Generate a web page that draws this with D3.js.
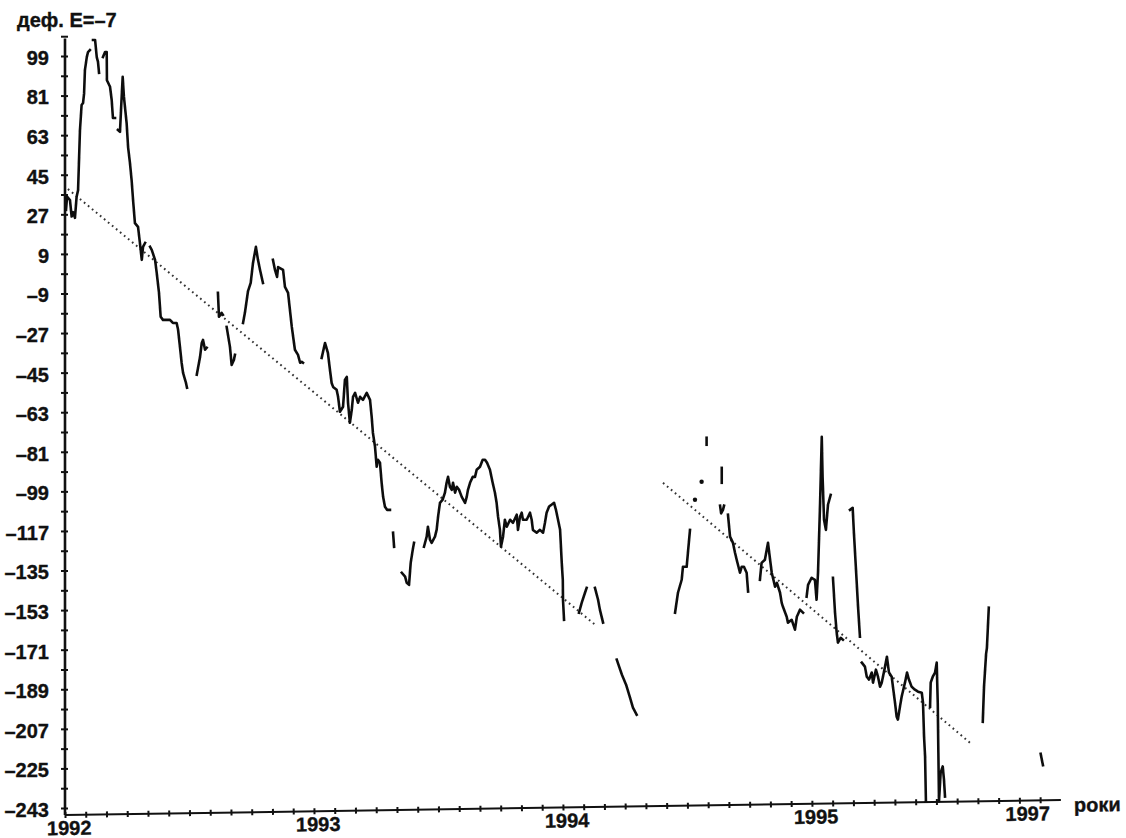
<!DOCTYPE html>
<html>
<head>
<meta charset="utf-8">
<script src="https://cdn.jsdelivr.net/npm/d3@7"></script>
<style>
  html, body { margin: 0; padding: 0; background: #fff; }
  svg { display: block; }
  text { font-family: "Liberation Sans", Arial, sans-serif; font-weight: bold; fill: #111; stroke: #111; stroke-width: 0.35px; }
</style>
</head>
<body>
<svg id="chart" width="1126" height="838"></svg>
<script>
// Deviation series, x in months since Jan 1992, y in deviation units.
// The record is broken into runs wherever the trace has a gap.
const run01 = [[0.05,29],[0.10,35],[0.24,33.5],[0.32,26],[0.39,28],[0.48,25.4],[0.56,35],[0.63,38],[0.72,65],[0.80,76.7],[0.87,77.6],[0.92,82],[0.96,92.6],[1.05,98.5],[1.11,100.8],[1.20,101.7]];
const run02 = [[1.35,106.3],[1.45,106.3],[1.53,98.5],[1.59,96.3],[1.64,91.3]];
const run03 = [[1.83,98.5],[1.93,100.8],[2.01,100.8],[2.02,88],[2.17,85],[2.25,79],[2.31,70.8],[2.41,70.8]];
const run04 = [[2.55,65.4],[2.65,64.5],[2.70,74.5],[2.78,89.5],[2.84,80.4],[2.97,68.5],[3.04,57.6],[3.13,50.4],[3.21,42.6],[3.28,33.5],[3.37,23],[3.52,21.3],[3.61,14],[3.70,6.3],[3.76,12.2],[3.86,14]];
const run05 = [[4.10,12.2],[4.18,10.8],[4.34,6.3],[4.42,0.4],[4.53,-8.7],[4.61,-19.6],[4.72,-21],[5.06,-21],[5.20,-22.4],[5.38,-22.4],[5.45,-25.5],[5.54,-33.3],[5.62,-40.5],[5.69,-45.1],[5.83,-49.7],[5.88,-51.9]];
const run06 = [[6.35,-46],[6.51,-37.8],[6.59,-31.5],[6.65,-30.1],[6.75,-34.6],[6.83,-33.7]];
const run07 = [[7.37,-8.7],[7.42,-19.6],[7.55,-17.8],[7.61,-18.7]];
const run08 = [[7.79,-24.2],[7.95,-33.3],[8.03,-41.5],[8.14,-39.2],[8.19,-36.9]];
const run09 = [[8.58,-22.4],[8.67,-17.8],[8.82,-7.9],[8.95,-4.2],[9.06,4.9],[9.20,12.2],[9.30,6.3],[9.40,1.7],[9.54,-4.2]];
const run10 = [[10.02,6.3],[10.12,1.7],[10.22,-1.5],[10.27,3],[10.51,1.7],[10.60,-6],[10.75,-8.7],[10.84,-16.5],[10.93,-24.2],[11.08,-34.6],[11.23,-36.9],[11.33,-40.5],[11.41,-40.1],[11.47,-40.5]];
const run11 = [[12.37,-38.3],[12.53,-31.5],[12.67,-36],[12.77,-43.8],[12.85,-49.7],[12.92,-51.5],[13.09,-52.8],[13.16,-56],[13.25,-62.8],[13.40,-60.5],[13.49,-48.3],[13.58,-46.9],[13.64,-58.7],[13.73,-67.8],[13.82,-61.9],[13.88,-56],[13.98,-54.2],[14.12,-58.7],[14.22,-56],[14.36,-57.4],[14.54,-54.2],[14.70,-57.4],[14.78,-65.1],[14.84,-72.4],[14.94,-78.7],[15.02,-87.8],[15.08,-84.6],[15.18,-86],[15.26,-95.1],[15.33,-101.5],[15.42,-106],[15.52,-107.4],[15.66,-107.4]];
const run12 = [[15.81,-117.8],[15.86,-124.2]];
const run13 = [[16.23,-136],[16.39,-137.8],[16.47,-140.6],[16.58,-141.5],[16.66,-131.5],[16.76,-125.5],[16.82,-122.4]];
const run14 = [[17.30,-124.2],[17.43,-119.6],[17.49,-115.1],[17.59,-121],[17.67,-122.4],[17.83,-119.6],[17.91,-116.5],[17.98,-110.5],[18.07,-104.2],[18.20,-102.8],[18.31,-99.6],[18.39,-95.1],[18.46,-92.4],[18.55,-96.9],[18.64,-98.3],[18.70,-95.1],[18.80,-99.6],[18.88,-96.9],[18.99,-98.3],[19.12,-101.5],[19.28,-104.2],[19.36,-101.5],[19.42,-98.3],[19.52,-95.1],[19.65,-92.4],[19.76,-92.4],[19.84,-89.2],[20.00,-87.8],[20.13,-84.6],[20.24,-84.6],[20.34,-86],[20.48,-89.2],[20.61,-95.1],[20.72,-99.6],[20.80,-104.2],[20.87,-110.5],[20.96,-116.5],[21.01,-124.2],[21.11,-119.6],[21.20,-111.9],[21.29,-115.1],[21.45,-111.9],[21.59,-113.3],[21.77,-109.6],[21.83,-116.5],[21.93,-110.5],[22.01,-108.7],[22.07,-111.9],[22.25,-111.9],[22.41,-108.7],[22.49,-111.9],[22.55,-116.5],[22.73,-117.8],[22.89,-116.5],[23.04,-117.8],[23.13,-113.3],[23.21,-108.7],[23.33,-105.9],[23.46,-105],[23.57,-104.2],[23.66,-107.4],[23.76,-111.9],[23.86,-116.5],[23.94,-131.5],[23.99,-139.2],[24.00,-148.3],[24.05,-157.4]];
const run15 = [[24.77,-154.2],[24.90,-149.7],[25.06,-145.1],[25.14,-142.9]];
const run16 = [[25.54,-142.9],[25.69,-148.3],[25.78,-152.9],[25.93,-158.7]];
const run17 = [[26.59,-175.5],[26.84,-182.4],[27.04,-186.9],[27.23,-192.8],[27.37,-197.4],[27.55,-200.6]];
const run18 = [[29.40,-154.2],[29.54,-145.1],[29.72,-139.2],[29.78,-133.3],[29.96,-133.3],[30.02,-127],[30.12,-116.5]];
const run19 = [[30.92,-74.6],[30.92,-77.8]];
const run20 = [[31.65,-88.3],[31.65,-95.1]];
const run21 = [[31.57,-105.5],[31.62,-109],[31.71,-107.4],[31.76,-105.5]];
const run22 = [[31.95,-109.6],[32.05,-119.6],[32.19,-122.4],[32.29,-126.9],[32.37,-130.1],[32.53,-136],[32.61,-133.3],[32.72,-133.3],[32.85,-136],[32.92,-144.6]];
const run23 = [[33.49,-139.2],[33.57,-131.5],[33.73,-130.1],[33.88,-122.4],[33.98,-130.1],[34.06,-136],[34.22,-142.4],[34.31,-140.6],[34.46,-145.1],[34.54,-149.7],[34.60,-151.5],[34.78,-156],[34.84,-158.7],[35.02,-157.4],[35.18,-161.9],[35.27,-156],[35.42,-152.8],[35.57,-154.2]];
const run24 = [[35.74,-146.9],[35.81,-141.5],[35.98,-138.3],[36.14,-139.2],[36.22,-148.3],[36.29,-136],[36.39,-104.2],[36.47,-74.2],[36.51,-92.4],[36.58,-111.9],[36.67,-116.5],[36.77,-105.1],[36.90,-100.6]];
const run25 = [[37.01,-138.3],[37.11,-154.2],[37.19,-163.3],[37.25,-167.8],[37.38,-165.6],[37.49,-166.5]];
const run26 = [[37.83,-107.4],[37.96,-106.5],[38.02,-117.8],[38.12,-134.6],[38.22,-151.5],[38.31,-165.1]];
const run27 = [[38.40,-176.9],[38.55,-178.7],[38.64,-183.3],[38.75,-184.6],[38.88,-181.4],[38.94,-186],[39.08,-180.1],[39.18,-183.3],[39.28,-187.8],[39.36,-186],[39.52,-178.7],[39.61,-174.2],[39.71,-181.4],[39.84,-183.3],[39.90,-187.8],[40.00,-195.1],[40.08,-201.5],[40.14,-202.8],[40.24,-196.9],[40.32,-192.4],[40.48,-186],[40.58,-181.4],[40.67,-184.6],[40.80,-187.8],[40.96,-189.2],[41.11,-190.1],[41.29,-190.6],[41.35,-195.1],[41.40,-210.5],[41.45,-219.6],[41.49,-240]];
const run28 = [[41.69,-196.9],[41.72,-186],[41.82,-183.3],[41.93,-181.4],[42.01,-176.9],[42.06,-195.1],[42.09,-217.8],[42.12,-240],[42.20,-226.9],[42.30,-224.1],[42.36,-230.1],[42.41,-237.8]];
const run29 = [[44.23,-203.8],[44.29,-187.8],[44.39,-172.9],[44.43,-170.1],[44.52,-151.9]];
const run30 = [[47.02,-218.3],[47.13,-223.6]];

// single isolated readings
const isolated = [[30.36,-102.8],[30.68,-94.6]];

// dotted linear trends over the two sub-periods
const trendA = [[0.14,38.5],[25.54,-159.6]];
const trendB = [[28.82,-95.1],[43.61,-213.3]];

const runs = [run01,run02,run03,run04,run05,run06,run07,run08,run09,run10,
  run11,run12,run13,run14,run15,run16,run17,run18,run19,run20,
  run21,run22,run23,run24,run25,run26,run27,run28,run29,run30];

// axis labelling
const yLabelStep = 18;
const yTickStep = 9;
const yBottom = -243;
const yTopTick = 99;
const xMonthTicks = d3.range(0, 48, 1);
const xYearMonths = [0, 12, 24, 36, 46.2];
const xYearLabels = ["1992", "1993", "1994", "1995", "1997"];
const titleText = "деф. E=–7";
const xTitleText = "роки";

const svg = d3.select("#chart");
svg.append("rect").attr("width", 1126).attr("height", 838).attr("fill", "#fff");

const defs = svg.append("defs");
defs.append("filter").attr("id", "soft")
  .append("feGaussianBlur").attr("stdDeviation", 0.45);

const x = d3.scaleLinear().domain([0, 48]).range([65, 1061]);
const y = d3.scaleLinear().domain([yBottom, yTopTick]).range([808, 56]);

const fmt = v => (v < 0 ? "\u2013" + Math.abs(v) : String(v));

// ---- y axis
const yAxisG = svg.append("g");
yAxisG.append("line")
  .attr("x1", x(0)).attr("x2", x(0))
  .attr("y1", y(107)).attr("y2", 815)
  .attr("stroke", "#111").attr("stroke-width", 2.6);

const yTicks = d3.range(yBottom, yTopTick + 10, yTickStep);
const yAxis = d3.axisLeft(y)
  .tickValues(yTicks)
  .tickSizeInner(4).tickSizeOuter(0).tickPadding(12)
  .tickFormat(v => ((v - yBottom) % yLabelStep === 0 && v <= yTopTick) ? fmt(v) : "");
const yAx = yAxisG.append("g").attr("transform", `translate(${x(0)},0)`).call(yAxis);
yAx.select(".domain").remove();
yAx.selectAll(".tick line").attr("stroke", "#111").attr("stroke-width", 2).attr("x2", -4);
yAx.selectAll(".tick").append("line").attr("x1", 0).attr("x2", 3)
  .attr("stroke", "#111").attr("stroke-width", 2);
yAx.selectAll(".tick text")
  .attr("font-size", 20).attr("font-weight", "bold")
  .attr("font-family", "'Liberation Sans', Arial, sans-serif")
  .attr("fill", "#111").attr("dy", "0.42em");

// ---- x axis, its baseline runs slightly upward to the right
const xAxisG = svg.append("g")
  .attr("transform", `translate(${x(0)},815) rotate(-0.86) translate(${-x(0)},0)`);
const xAxis = d3.axisBottom(x)
  .tickValues(xMonthTicks)
  .tickSizeInner(3).tickSizeOuter(0)
  .tickFormat("");
const xAx = xAxisG.append("g").call(xAxis);
xAx.select(".domain").attr("stroke", "#111").attr("stroke-width", 2)
  .attr("d", `M${x(0)},0H${x(48)}`);
xAx.selectAll(".tick line").attr("stroke", "#111").attr("stroke-width", 2).attr("y1", -3);

xAxisG.selectAll("text.year")
  .data(xYearMonths)
  .join("text")
  .attr("class", "year")
  .attr("x", m => x(m) + 4)
  .attr("y", 20)
  .attr("text-anchor", "middle")
  .attr("font-size", 20)
  .text((m, i) => xYearLabels[i]);

xAxisG.append("text")
  .attr("x", x(48) + 13)
  .attr("y", 12)
  .attr("font-size", 20)
  .text(xTitleText);

svg.append("text")
  .attr("x", 17).attr("y", 27)
  .attr("font-size", 20)
  .text(titleText);

// ---- trend lines (dotted)
const line = d3.line().x(d => x(d[0])).y(d => y(d[1]));
const plot = svg.append("g").attr("filter", "url(#soft)");

plot.selectAll("path.trend")
  .data([trendA, trendB])
  .join("path")
  .attr("class", "trend")
  .attr("d", line)
  .attr("fill", "none")
  .attr("stroke", "#333")
  .attr("stroke-width", 2)
  .attr("stroke-dasharray", "1.7,3.5");

// ---- deviation trace
plot.selectAll("path.run")
  .data(runs)
  .join("path")
  .attr("class", "run")
  .attr("d", line)
  .attr("fill", "none")
  .attr("stroke", "#111")
  .attr("stroke-width", 2.6)
  .attr("stroke-linejoin", "round")
  .attr("stroke-linecap", "square");

plot.selectAll("circle.iso")
  .data(isolated)
  .join("circle")
  .attr("class", "iso")
  .attr("cx", d => x(d[0]))
  .attr("cy", d => y(d[1]))
  .attr("r", 2.2)
  .attr("fill", "#111");
</script>
</body>
</html>
